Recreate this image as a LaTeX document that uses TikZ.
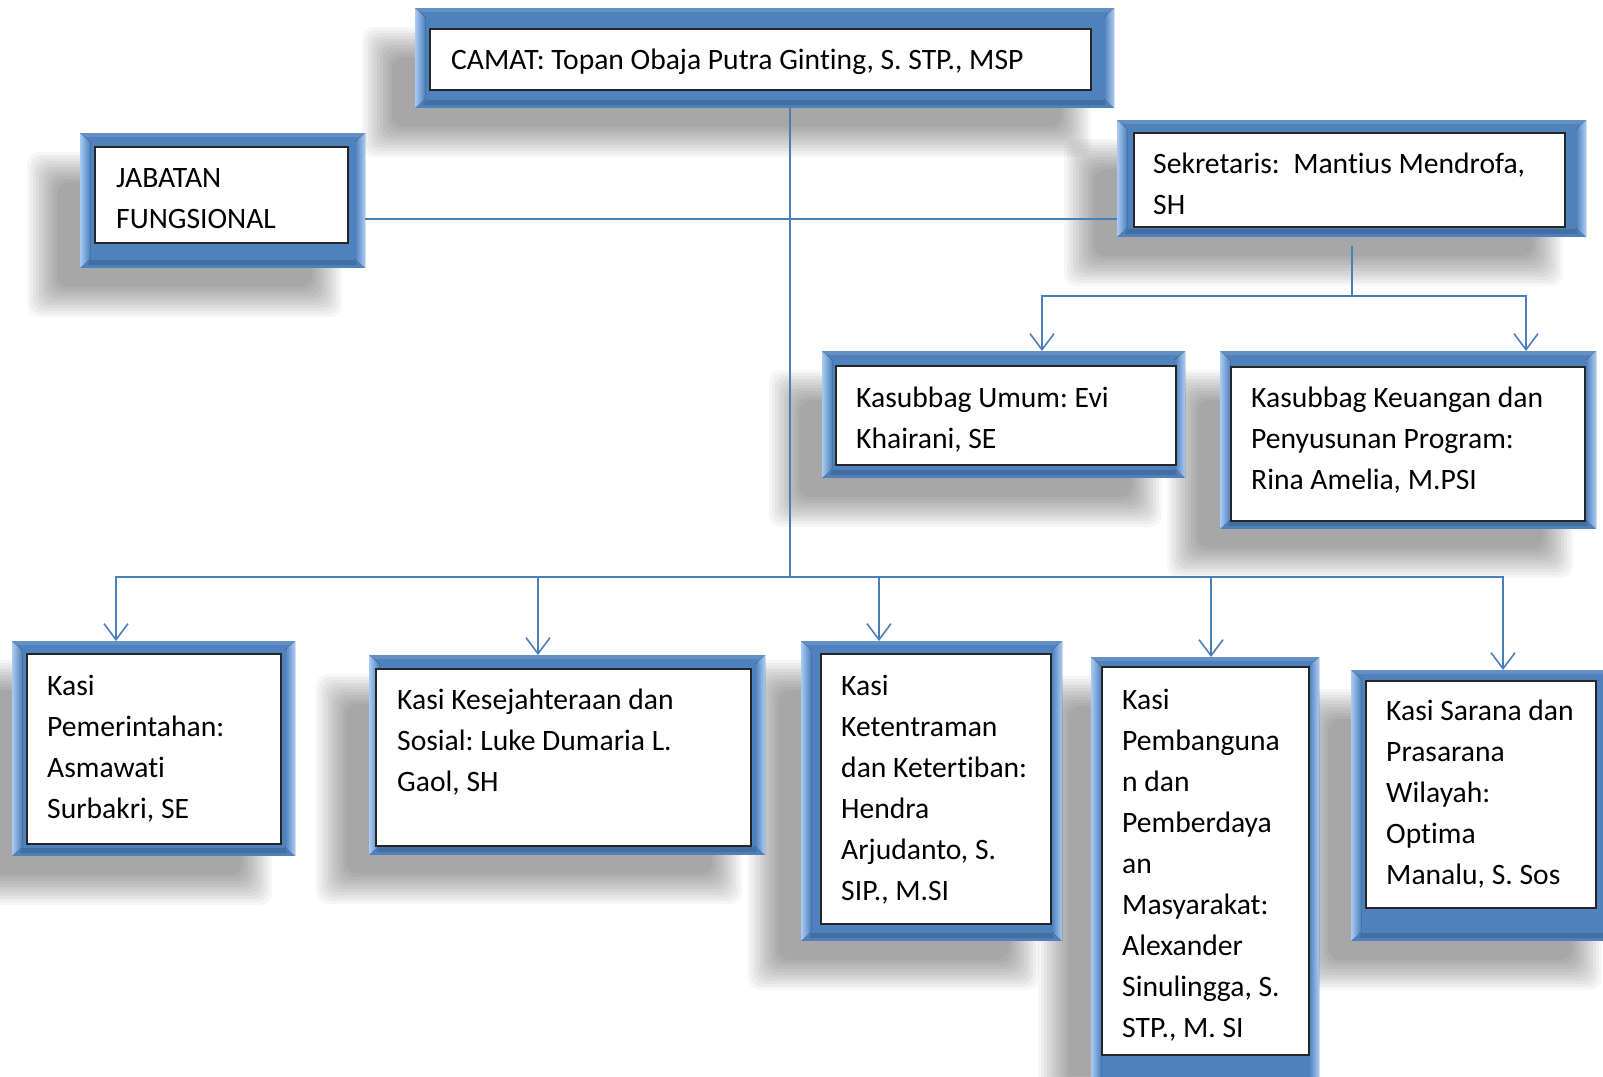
\documentclass[tikz,border=0pt]{standalone}
\usepackage{fontspec}
\setmainfont{Carlito}[Ligatures={NoCommon}]
\frenchspacing
\usetikzlibrary{arrows.meta,calc}
\definecolor{acc}{HTML}{4F81BD}
\definecolor{bevlight}{HTML}{A9CBF3}
\definecolor{linec}{HTML}{4A7EBB}
\tikzset{
  shadowlayer/.style={fill=black, opacity=0.036, rounded corners=12pt},
  conn/.style={draw=linec, line width=1.6pt},
  arr/.style={conn, -{Straight Barb[length=16pt,width=24pt,line width=1.6pt]}},
  txt/.style={font=\fontsize{29.6}{41}\selectfont, align=left, inner sep=0pt, anchor=base west}
}
% soft drop shadow of an outer frame: x1 y1 x2 y2
\newcommand{\orgshadow}[4]{%
  \foreach \k in {0,...,10}{%
    \fill[shadowlayer] ({#1-38-15+\k*3},{#2+34-15+\k*3}) rectangle ({#3-38+15-\k*3},{#4+34+15-\k*3});
  }%
}
% #1 name, #2..#5 outer x1 y1 x2 y2, #6..#9 inner x1 y1 x2 y2
\newcommand{\orgframe}[9]{%
  \node[fill=acc, inner sep=0pt, outer sep=0pt,
        minimum width={(#4-#2)*1pt}, minimum height={(#5-#3)*1pt}] (#1) at ({(#2+#4)/2},{(#3+#5)/2}) {};
  \fill[left color=bevlight, right color=acc] (#2,#3) -- (#2+10,#3+9) -- (#2+10,#5-9) -- (#2,#5) -- cycle;
  \fill[left color=acc, right color=bevlight] (#4,#3) -- (#4-10,#3+9) -- (#4-10,#5-9) -- (#4,#5) -- cycle;
  \fill[acc!88!white] (#2,#3) -- (#4,#3) -- (#4-6,#3+4) -- (#2+6,#3+4) -- cycle;
  \fill[acc!85!black] (#2+8,#5-3) -- (#4-8,#5-3) -- (#4-10,#5-8) -- (#2+10,#5-8) -- cycle;
  \draw[line width=1.4pt, draw=black!85, fill=white] (#6,#7) rectangle (#8,#9);
}
\begin{document}
\begin{tikzpicture}[x=1pt,y=-1pt]
\useasboundingbox[fill=white] (0,0) rectangle (1603,1076);

% shadows first
\orgshadow{415}{8}{1114}{108}
\orgshadow{80}{133}{365}{268}
\orgshadow{1117}{120}{1586}{237}
\orgshadow{822}{351}{1185}{478}
\orgshadow{1220}{351}{1596}{529}
\orgshadow{12}{641}{295}{856}
\orgshadow{369}{655}{765}{855}
\orgshadow{801}{641}{1062}{941}
\orgshadow{1091}{657}{1319}{1095}
\orgshadow{1351}{670}{1625}{941}

\orgframe{camat}{415}{8}{1114}{108}{430}{29}{1091}{90}
\orgframe{jab}{80}{133}{365}{268}{95}{147}{348}{243}
\orgframe{sek}{1117}{120}{1586}{237}{1134}{133}{1565}{227}
\orgframe{umum}{822}{351}{1185}{478}{836}{366}{1176}{465}
\orgframe{keu}{1220}{351}{1596}{529}{1231}{367}{1585}{521}
\orgframe{pem}{12}{641}{295}{856}{27}{654}{281}{844}
\orgframe{kes}{369}{655}{765}{855}{376}{669}{751}{846}
\orgframe{ket}{801}{641}{1062}{941}{821}{654}{1051}{924}
\orgframe{pemb}{1091}{657}{1319}{1095}{1102}{667}{1309}{1055}
\orgframe{sar}{1351}{670}{1625}{941}{1366}{681}{1596}{908}

% texts (anchor = baseline of the last line)
\node[txt] (tcamat) at (451,69) {CAMAT: Topan Obaja Putra Ginting, S. STP., MSP};
\node[txt] (tjab) at (116,228) {JABATAN\\FUNGSIONAL};
\node[txt] (tsek) at (1153,214) {Sekretaris:\ \ Mantius Mendrofa,\\SH};
\node[txt] (tumum) at (856,448) {Kasubbag Umum: Evi\\Khairani, SE};
\node[txt] (tkeu) at (1251,489) {Kasubbag Keuangan dan\\Penyusunan Program:\\Rina Amelia, M.PSI};
\node[txt] (tpem) at (47,818) {Kasi\\Pemerintahan:\\Asmawati\\Surbakri, SE};
\node[txt] (tkes) at (397,791) {Kasi Kesejahteraan dan\\Sosial: Luke Dumaria L.\\Gaol, SH};
\node[txt] (tket) at (841,900) {Kasi\\Ketentraman\\dan Ketertiban:\\Hendra\\Arjudanto, S.\\SIP., M.SI};
\node[txt] (tpemb) at (1122,1037) {Kasi\\Pembanguna\\n dan\\Pemberdaya\\an\\Masyarakat:\\Alexander\\Sinulingga, S.\\STP., M. SI};
\node[txt] (tsar) at (1386,884) {Kasi Sarana dan\\Prasarana\\Wilayah:\\Optima\\Manalu, S. Sos};

% connectors
\coordinate (busC) at (790,577);
\coordinate (hl) at (790,219);
\coordinate (sekj) at (1352,296);
\coordinate (xu) at (1042,0);
\coordinate (xk) at (1526,0);
\coordinate (x1) at (116,0);
\coordinate (x2) at (538,0);
\coordinate (x3) at (879,0);
\coordinate (x4) at (1211,0);
\coordinate (x5) at (1503,0);

\draw[conn] (camat.south -| busC) -- (busC);
\draw[conn] (jab.east |- hl) -- (sek.west |- hl);
\draw[conn] ($(sek.south -| sekj)+(0,9)$) -- (sekj);
\draw[arr] (sekj) -| (umum.north -| xu);
\draw[arr] (sekj) -| (keu.north -| xk);
\draw[arr] (busC) -| (pem.north -| x1);
\draw[arr] (busC) -| (kes.north -| x2);
\draw[arr] (busC) -| (ket.north -| x3);
\draw[arr] (busC) -| (pemb.north -| x4);
\draw[arr] (busC) -| (sar.north -| x5);
\end{tikzpicture}
\end{document}
